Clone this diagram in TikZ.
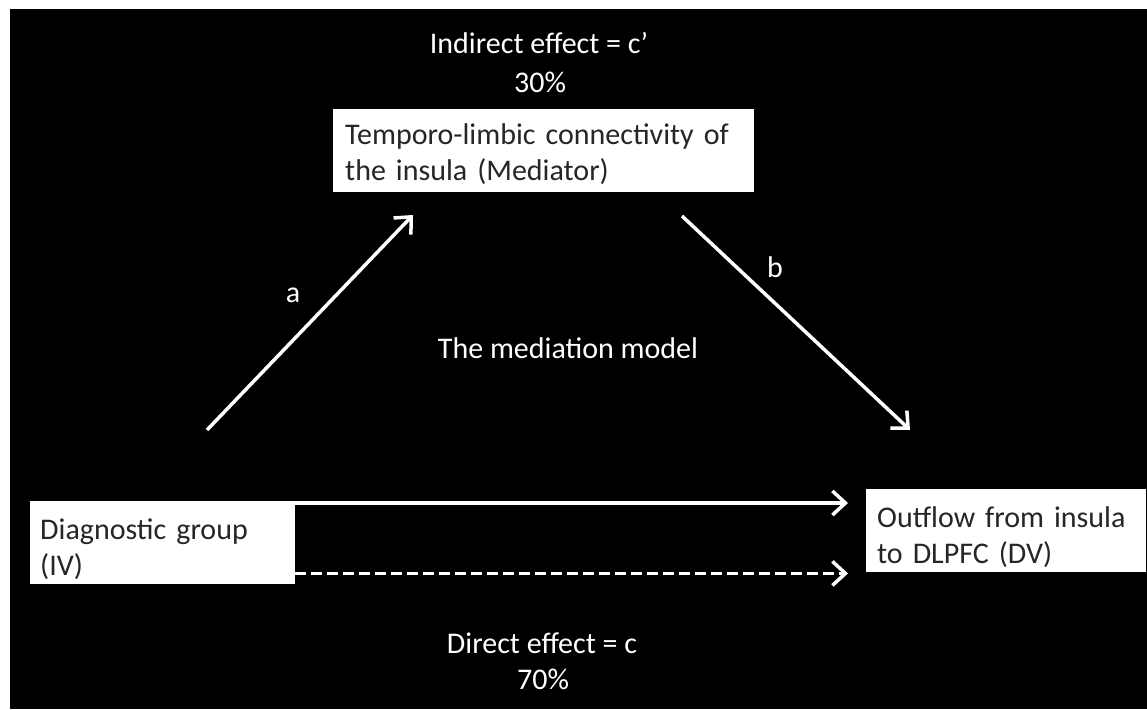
\documentclass[tikz,border=0pt]{standalone}
\usepackage{fontspec}
\setmainfont{Carlito}
\usetikzlibrary{arrows.meta}
\newcommand{\topstrut}{\rule{0pt}{33pt}}
\begin{document}
\begin{tikzpicture}[x=1pt,y=-1pt,
  box/.style={fill=white, draw=none, text=black!85, font=\fontsize{30pt}{36pt}\selectfont,
    align=left, anchor=north west, inner ysep=0pt, minimum height=83pt},
  lbl/.style={text=white, font=\fontsize{30pt}{36pt}\selectfont, inner sep=0pt},
  arr/.style={draw=white, line width=3.5pt, -{Straight Barb[length=13pt,width=24pt]}},
]
\useasboundingbox (0,0) rectangle (1147,709);
\fill[white] (0,0) rectangle (1147,709);
\fill[black] (10,9) rectangle (1147,709);

\node[box, text width=245pt, inner xsep=10pt] (L) at (30,501) {\topstrut Diagnostic group\\(IV)};
\node[box, text width=258pt, inner xsep=11pt] (R) at (866,489) {\topstrut Outflow from insula\\to DLPFC (DV)};
\node[box, text width=397pt, inner xsep=12pt] (M) at (333,109) {\rule{0pt}{27pt}Temporo-limbic connectivity of\\the insula (Mediator)};

\node[lbl] (ind) at (539,43) {Indirect effect = c’};
\node[lbl] (p30) at (540,82) {30\%};
\node[lbl] (med) at (568,348) {The mediation model};
\node[lbl] (dir) at (542,643) {Direct effect = c};
\node[lbl] (p70) at (543,679) {70\%};
\node[lbl] (la) at (293,295) {a};
\node[lbl] (lb) at (775,267) {b};

\coordinate (s1) at ([yshift=-2pt]L.north east);
\coordinate (s2) at ([yshift=11pt]L.south east);
\coordinate (aS) at (207,430);
\coordinate (aE) at (413,215);
\coordinate (bS) at (682,216);
\coordinate (bE) at (910,430);

\draw[arr, shorten >=18pt] (s1) -- (s1 -| R.west);
\draw[arr, dash pattern=on 11pt off 5pt, shorten >=18pt] (s2) -- (s2 -| R.west);
\draw[arr] (aS) -- (aE);
\draw[arr] (bS) -- (bE);
\end{tikzpicture}
\end{document}
